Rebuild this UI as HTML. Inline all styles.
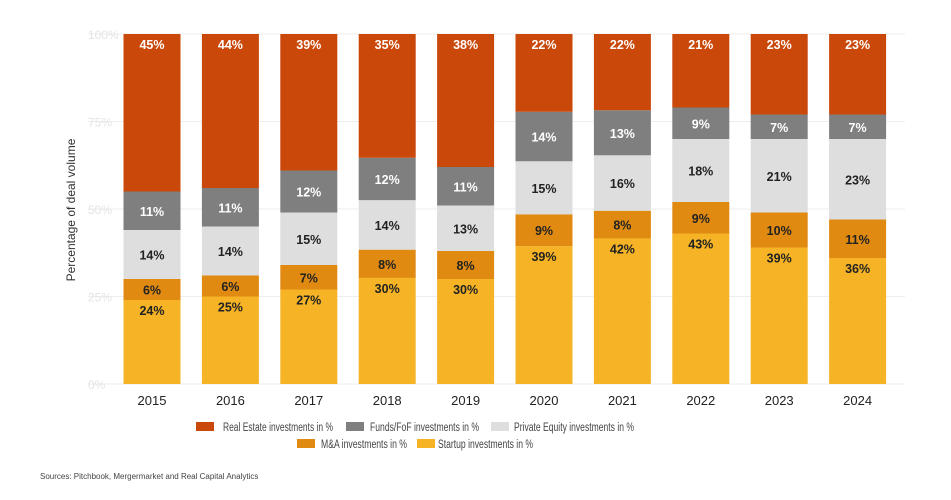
<!DOCTYPE html>
<html><head><meta charset="utf-8"><style>
body{margin:0;background:#fff;font-family:"Liberation Sans",Arial,sans-serif;}
svg text{font-family:"Liberation Sans",Arial,sans-serif;}
</style></head><body>
<svg id="chart" width="951" height="495">
<g id="grid"></g><g id="bars"></g><g id="labels"></g>
<text x="75" y="210" transform="rotate(-90 75 210)" text-anchor="middle" font-size="12" fill="#333">Percentage of deal volume</text>
<g id="legend"></g>
<text x="40" y="479" font-size="8" fill="#444">Sources: Pitchbook, Mergermarket and Real Capital Analytics</text>
</svg>
<script>
const years=["2015","2016","2017","2018","2019","2020","2021","2022","2023","2024"];
const startup=[24,25,27,30,30,39,42,43,39,36];
const mna=[6,6,7,8,8,9,8,9,10,11];
const pe=[14,14,15,14,13,15,16,18,21,23];
const funds=[11,11,12,12,11,14,13,9,7,7];
const realEstate=[45,44,39,35,38,22,22,21,23,23];
const yTicks=[0,25,50,75,100];
const seriesList=[
 {name:"startup",vals:startup,color:"#f5b325",lc:"#222",top:true,label:"Startup investments in %",lw:95},
 {name:"mna",vals:mna,color:"#e08a12",lc:"#222",top:false,label:"M&A investments in %",lw:86},
 {name:"pe",vals:pe,color:"#dedede",lc:"#222",top:false,label:"Private Equity investments in %",lw:120},
 {name:"funds",vals:funds,color:"#7f7f7f",lc:"#fff",top:false,label:"Funds/FoF investments in %",lw:109},
 {name:"real-estate",vals:realEstate,color:"#c9480a",lc:"#fff",top:true,label:"Real Estate investments in %",lw:110}];
const NS="http://www.w3.org/2000/svg";
const y0=384,y1=34,xL=88,xR=905,step=78.4,x0=152,bw=57;
const Y=v=>y0-(y0-y1)*v/100;
const X=i=>x0+i*step;
function mk(t,a,p){const e=document.createElementNS(NS,t);for(const k in a)e.setAttribute(k,a[k]);p.appendChild(e);return e;}
const grid=document.getElementById('grid');
yTicks.forEach(t=>{
 const l=mk('line',{x1:xL,x2:xR,y1:Y(t),y2:Y(t),stroke:'#eee','stroke-width':1},grid);
 
 
 const tx=mk('text',{x:88,y:Y(t)+5,'font-size':12,fill:'#e4e4e4'},grid);tx.textContent=t+'%';
 
 
});
const bars=document.getElementById('bars'),labels=document.getElementById('labels');
years.forEach((yr,i)=>{
 const tot=seriesList.reduce((s,se)=>s+se.vals[i],0);
 let acc=0;
 seriesList.forEach(se=>{
  const v=se.vals[i]*100/tot;
  const top=Y(acc+v),bot=Y(acc);
  const r=mk('rect',{x:X(i)-bw/2,y:top,width:bw,height:bot-top,fill:se.color},bars);
  
  
  const ly=se.top?top+15:(top+bot)/2+5;
  const t=mk('text',{x:X(i),y:ly,'text-anchor':'middle','font-size':12.5,'font-weight':'bold',fill:se.lc},labels);
  t.textContent=se.vals[i]+'%';
  
  
  acc+=v;
 });
 const xt=mk('text',{x:X(i),y:405,'text-anchor':'middle','font-size':13,fill:'#222'},labels);
 xt.textContent=yr;
 
 
});
const leg=document.getElementById('legend');
const legPos=[[4,196,427,223],[3,346,427,370],[2,491,427,514],[1,297,444,321],[0,417,444,438]];
legPos.forEach(([k,x,y,tx])=>{
 const se=seriesList[k];
 const r=mk('rect',{x:x,y:y-5,width:18,height:9,fill:se.color},leg);
 
 
 const t=mk('text',{x:tx,y:y+4,'font-size':11.5,fill:'#444',textLength:se.lw,lengthAdjust:'spacingAndGlyphs'},leg);
 t.textContent=se.label;
 
 
});
</script>
</body></html>
